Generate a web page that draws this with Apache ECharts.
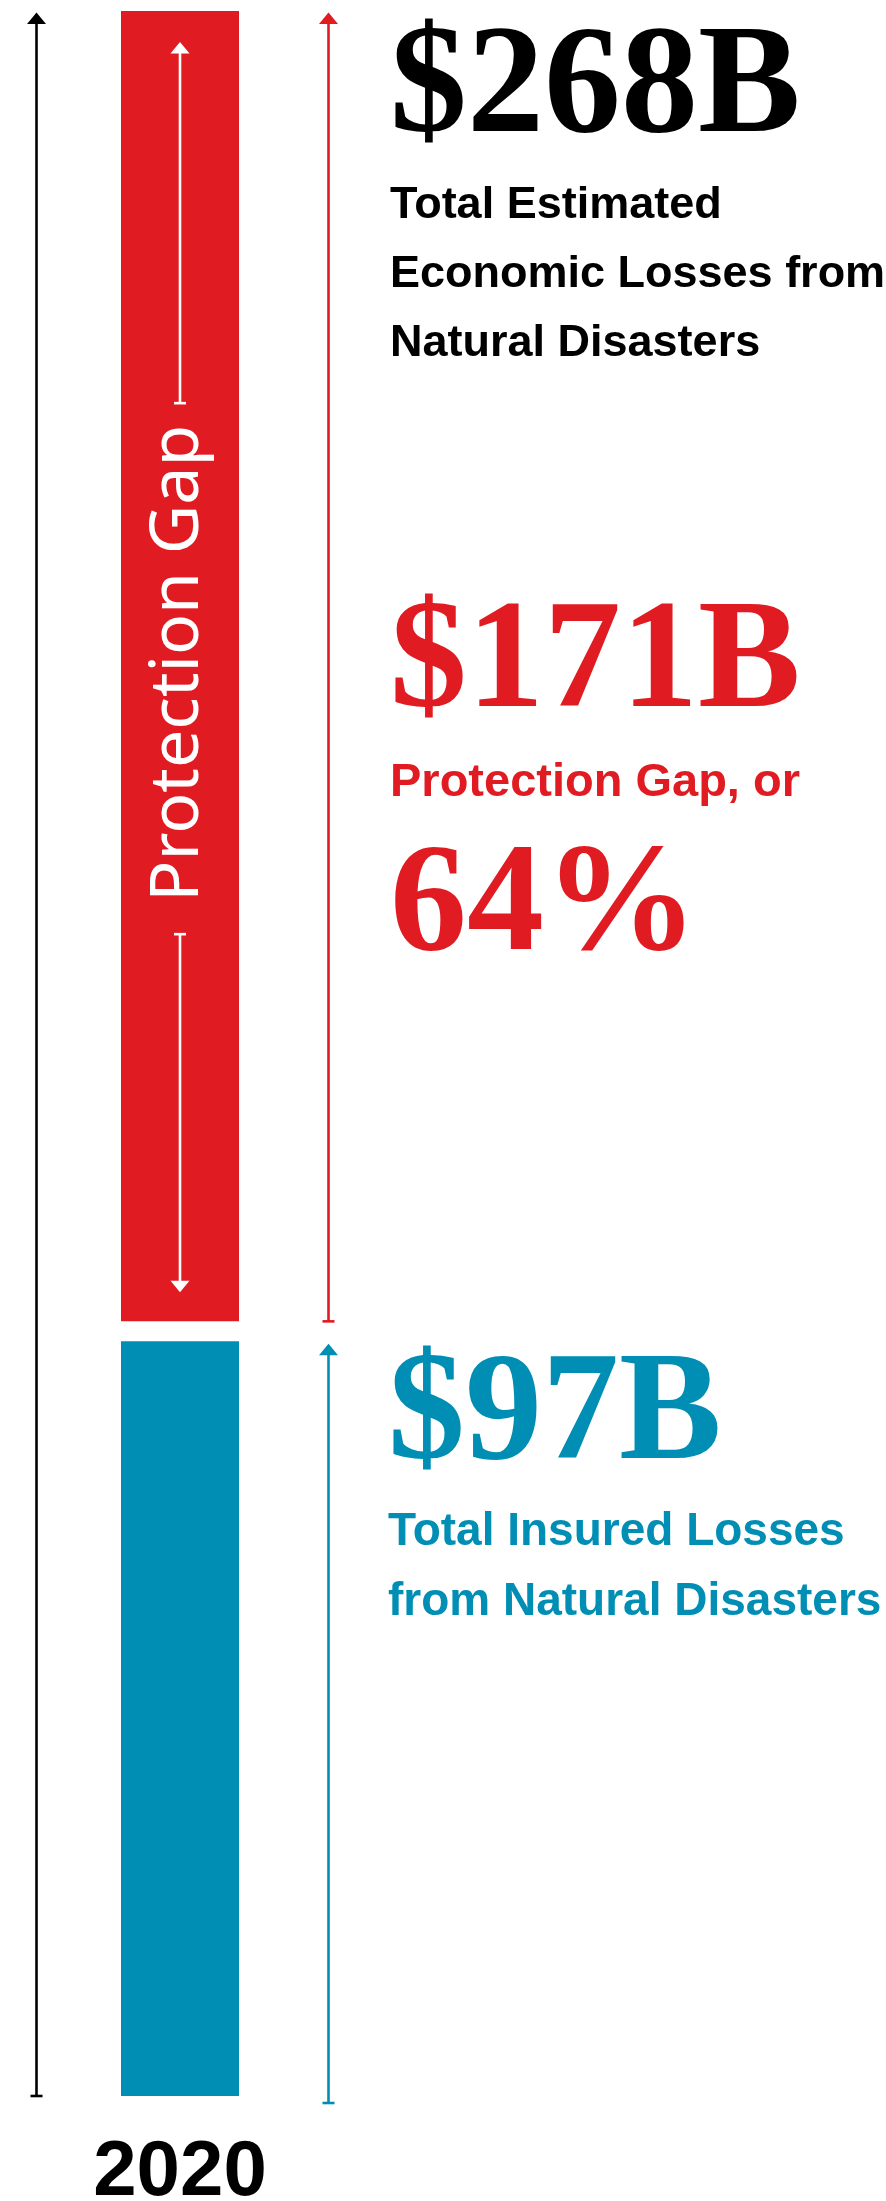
<!DOCTYPE html>
<html>
<head>
<meta charset="utf-8">
<script src="https://cdn.jsdelivr.net/npm/echarts@6/dist/echarts.min.js"></script>
<style>
  html, body { margin: 0; padding: 0; background: #ffffff; }
  #chart { width: 886px; height: 2201px; }
</style>
</head>
<body>
<div id="chart"></div>
<script>
// Natural-disaster losses, in billions of US dollars
const years = ['2020'];
const insuredLosses = [97];
const protectionGap = [171];

// Annotation texts
const totalLines = ['Total Estimated', 'Economic Losses from', 'Natural Disasters'];
const gapLine = 'Protection Gap, or';
const insuredLines = ['Total Insured Losses', 'from Natural Disasters'];
const barTitle = 'Protection Gap';

const RED = '#E11B22';
const BLUE = '#008EB4';
const BLACK = '#000000';
const WHITE = '#FFFFFF';

const NUM_FAMILY = '"Liberation Serif", "DejaVu Serif", serif';
const SANS_FAMILY = '"Liberation Sans", Arial, sans-serif';
const NUM_SIZE = 154;

// Text placed by its alphabetic baseline (canvas "middle" sits k*size above it)
function textAt(x, baseline, str, size, family, weight, color, k) {
  return {
    type: 'text',
    x: x,
    y: baseline - k * size,
    style: {
      text: str,
      fontSize: size,
      fontFamily: family,
      fontWeight: weight,
      lineHeight: size,
      fill: color,
      align: 'left',
      verticalAlign: 'middle'
    }
  };
}

// Vertical arrow: head at yTip, flat end cap at yEnd
function arrow(x, yTip, yEnd, color, lw) {
  const dir = yEnd > yTip ? 1 : -1;
  const headLen = 11.5, headHalf = 9.5, capHalf = 6;
  return [
    {
      type: 'line',
      shape: { x1: x, y1: yTip + dir * headLen - dir, x2: x, y2: yEnd },
      style: { stroke: color, lineWidth: lw }
    },
    {
      type: 'polygon',
      shape: { points: [[x, yTip], [x - headHalf, yTip + dir * headLen], [x + headHalf, yTip + dir * headLen]] },
      style: { fill: color }
    },
    {
      type: 'line',
      shape: { x1: x - capHalf, y1: yEnd, x2: x + capHalf, y2: yEnd },
      style: { stroke: color, lineWidth: 2.6 }
    }
  ];
}

function renderItem(params, api) {
  const cat = api.value(0);
  const insured = api.value(1);
  const gap = api.value(2);
  const total = insured + gap;

  const p0 = api.coord([cat, 0]);
  const cx = p0[0];
  const y0 = p0[1];
  const yIns = api.coord([cat, insured])[1];
  const yTop = api.coord([cat, total])[1];
  const bw = api.size([1, 0])[0];
  const redBottom = yIns - 20;
  const redMid = (yTop + redBottom) / 2;
  const pct = Math.round(gap / total * 100);

  const children = [
    // insured part of the bar
    { type: 'rect', shape: { x: cx - bw / 2, y: yIns, width: bw, height: y0 - yIns }, style: { fill: BLUE } },
    // uninsured part (protection gap), set slightly apart
    { type: 'rect', shape: { x: cx - bw / 2, y: yTop, width: bw, height: redBottom - yTop }, style: { fill: RED } }
  ];

  // span arrows beside the bar
  const leftX = cx - 143.5;
  const rightX = cx + 148.5;
  children.push(...arrow(leftX, yTop + 1.5, y0, BLACK, 2.6));
  children.push(...arrow(rightX, yTop + 1.5, redBottom, RED, 2.6));
  children.push(...arrow(rightX, yIns + 2.5, y0 + 7, BLUE, 2.6));

  // white arrows inside the red segment, around the vertical title
  children.push(...arrow(cx, yTop + 31, redMid - 263, WHITE, 2.6));
  children.push(...arrow(cx, redBottom - 29, redMid + 268, WHITE, 2.6));

  // vertical title inside the red segment
  children.push({
    type: 'text',
    x: cx - 1,
    y: redMid - 3,
    rotation: Math.PI / 2,
    style: {
      text: barTitle,
      fontSize: 68,
      fontFamily: '"Noto Sans", "Open Sans", sans-serif',
      fontWeight: 'normal',
      lineHeight: 68,
      fill: WHITE,
      align: 'center',
      verticalAlign: 'middle'
    }
  });

  // value callouts
  const tx = cx + 210;
  const kSerif = 0.30, kSans = 0.3465;
  children.push(textAt(tx, yTop + 126, '$' + total + 'B', NUM_SIZE, NUM_FAMILY, 'bold', BLACK, kSerif));
  totalLines.forEach(function (s, i) {
    children.push(textAt(tx, yTop + 210 + i * 69, s, 45, SANS_FAMILY, 'bold', BLACK, kSans));
  });
  children.push(textAt(tx, yTop + 701, '$' + gap + 'B', NUM_SIZE, NUM_FAMILY, 'bold', RED, kSerif));
  children.push(textAt(tx, yTop + 788, gapLine, 47, SANS_FAMILY, 'bold', RED, kSans));
  children.push(textAt(tx, yTop + 944, pct + '%', NUM_SIZE, NUM_FAMILY, 'bold', RED, kSerif));
  children.push(textAt(tx - 2, yIns + 123, '$' + insured + 'B', NUM_SIZE, NUM_FAMILY, 'bold', BLUE, kSerif));
  insuredLines.forEach(function (s, i) {
    children.push(textAt(tx - 2, yIns + 207 + i * 70, s, 46, SANS_FAMILY, 'bold', BLUE, kSans));
  });

  return { type: 'group', children: children };
}

const chart = echarts.init(document.getElementById('chart'), null, { renderer: 'canvas' });
chart.setOption({
  animation: false,
  backgroundColor: '#ffffff',
  grid: { left: 121, width: 118, top: 11, bottom: 105, outerBoundsMode: 'none', containLabel: false },
  xAxis: {
    type: 'category',
    data: years,
    axisLine: { show: false },
    axisTick: { show: false },
    axisLabel: {
      margin: 38,
      fontSize: 78,
      lineHeight: 78,
      fontWeight: 'bold',
      fontFamily: SANS_FAMILY,
      color: BLACK
    }
  },
  yAxis: {
    type: 'value',
    min: 0,
    max: insuredLosses[0] + protectionGap[0],
    show: false
  },
  series: [{
    type: 'custom',
    renderItem: renderItem,
    clip: false,
    encode: { x: 0, y: 1 },
    data: years.map(function (y, i) { return [i, insuredLosses[i], protectionGap[i]]; })
  }]
});
</script>
</body>
</html>
